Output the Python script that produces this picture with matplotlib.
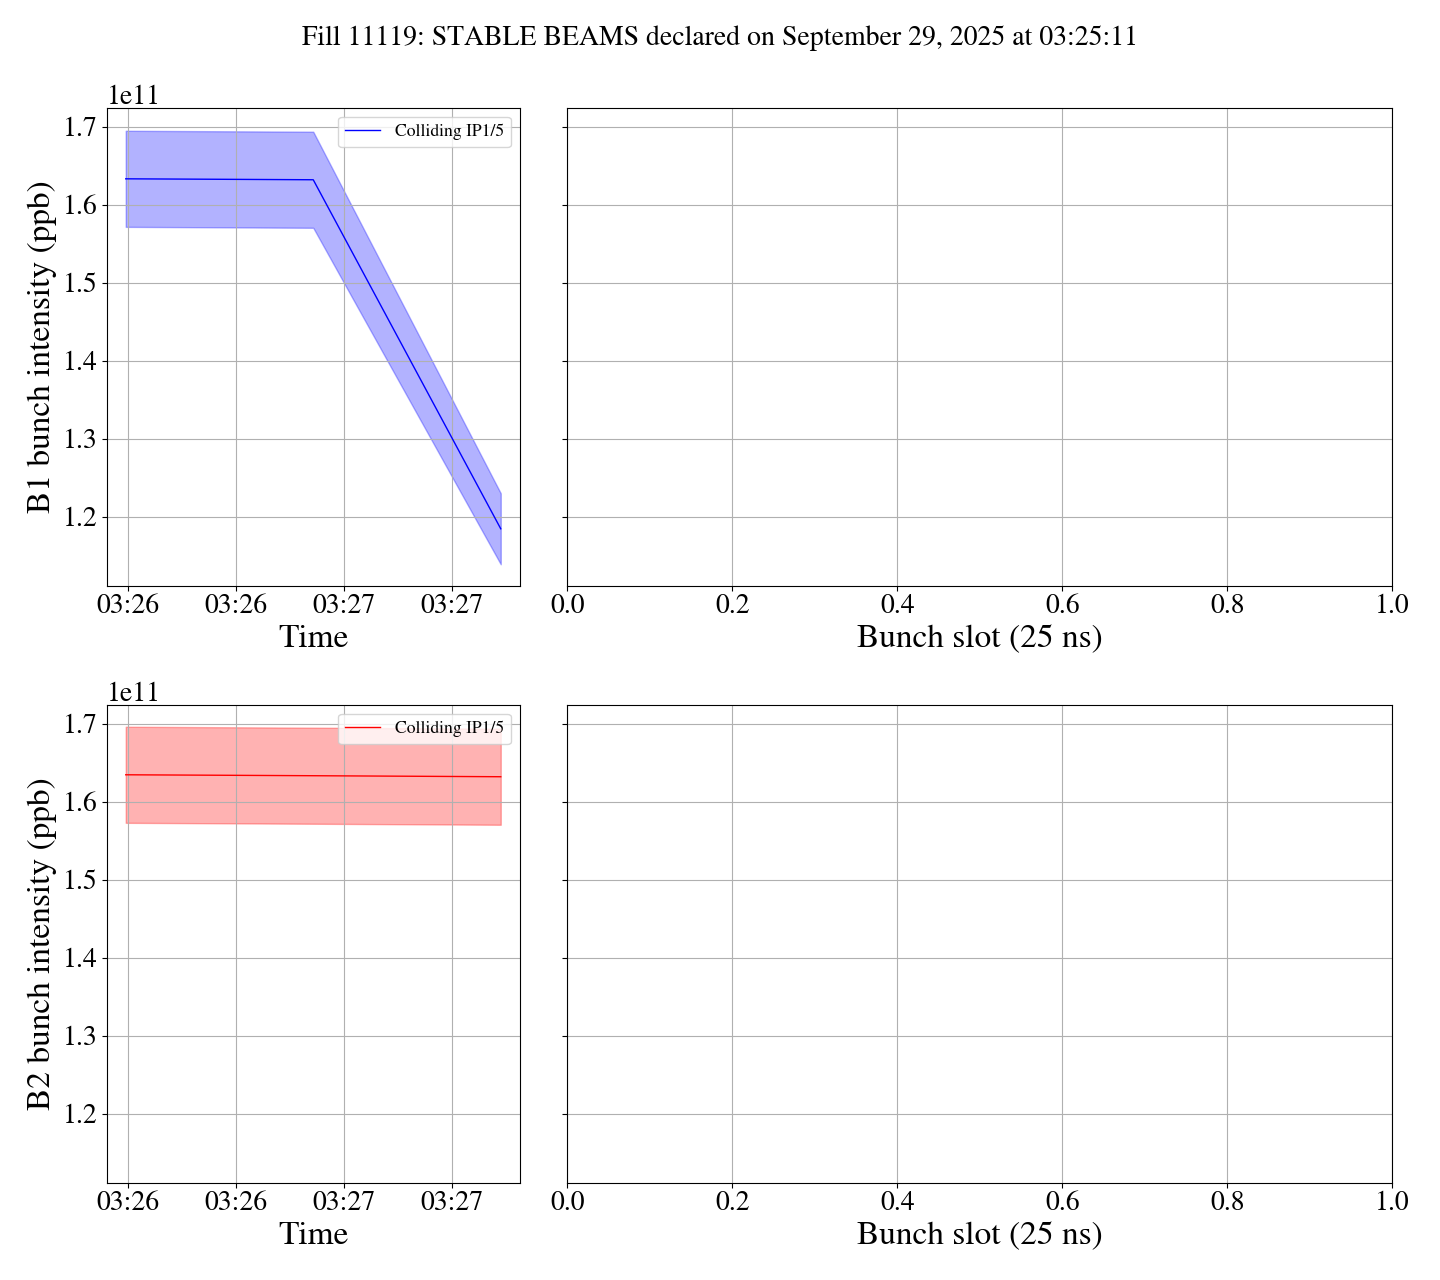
import numpy as np
import pandas as pd
import matplotlib
matplotlib.use("Agg")
import matplotlib.pyplot as plt
import matplotlib.dates as mdates

plt.rcParams['font.family'] = ['STIXGeneral', 'Liberation Serif', 'DejaVu Serif']

# Sample times (colliding bunches, IP1/5)
times = pd.to_datetime(['2025-09-29 03:25:59.5', '2025-09-29 03:26:51.5', '2025-09-29 03:27:43.5'])

# Beam 1: mean and spread of bunch intensity (ppb)
b1_mean = np.array([1.6333e11, 1.6321e11, 1.1846e11])
b1_std = np.array([0.0616e11, 0.0616e11, 0.0455e11])

# Beam 2
b2_mean = np.array([1.6346e11, 1.6334e11, 1.6321e11])
b2_std = np.array([0.0616e11, 0.0616e11, 0.0616e11])

title = 'Fill 11119: STABLE BEAMS declared on September 29, 2025 at 03:25:11'

fig = plt.figure(figsize=(14.4, 12.8), dpi=100)
gs = fig.add_gridspec(2, 2, width_ratios=[1, 2], left=0.0743, right=0.967,
                      top=0.9156, bottom=0.0758, wspace=0.0775, hspace=0.249)

ax_t1 = fig.add_subplot(gs[0, 0])
ax_s1 = fig.add_subplot(gs[0, 1], sharey=ax_t1)
ax_t2 = fig.add_subplot(gs[1, 0], sharey=ax_t1)
ax_s2 = fig.add_subplot(gs[1, 1], sharey=ax_t1)

for ax_t, ax_s, mean, std, color, beam in [
        (ax_t1, ax_s1, b1_mean, b1_std, 'b', 'B1'),
        (ax_t2, ax_s2, b2_mean, b2_std, 'r', 'B2')]:
    ax_t.plot(times, mean, color=color, lw=1, label='Colliding IP1/5')
    ax_t.fill_between(times, mean - std, mean + std, color=color, alpha=0.3)
    ax_t.xaxis.set_major_locator(mdates.SecondLocator(bysecond=[0, 30]))
    ax_t.xaxis.set_major_formatter(mdates.DateFormatter('%H:%M'))
    ax_t.set_xlabel('Time', fontsize=24)
    ax_t.set_ylabel(f'{beam} bunch intensity (ppb)', fontsize=24)
    ax_t.tick_params(labelsize=20)
    ax_t.tick_params(axis='x', pad=2.3)
    ax_t.yaxis.get_offset_text().set_fontsize(20)
    ax_t.legend(loc='upper right', fontsize=12.7)
    ax_t.grid()

    ax_s.set_xlim(0, 1)
    ax_s.set_xlabel('Bunch slot (25 ns)', fontsize=24)
    ax_s.tick_params(labelsize=20)
    ax_s.tick_params(axis='x', pad=2.3)
    ax_s.tick_params(axis='y', labelleft=False)
    ax_s.grid()

fig.suptitle(title, fontsize=20, y=0.98)

plt.savefig('out.png')
plt.close()
